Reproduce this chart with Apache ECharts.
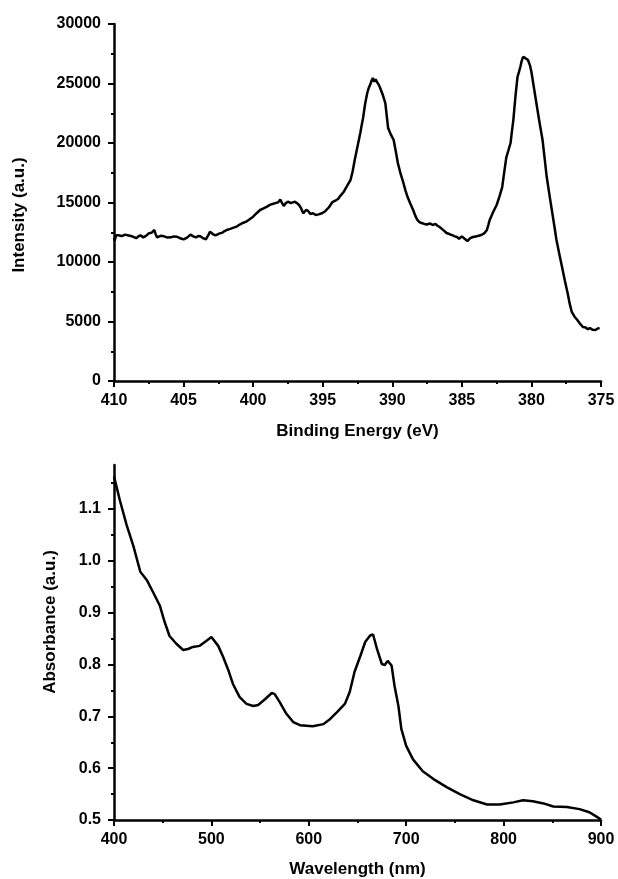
<!DOCTYPE html>
<html>
<head>
<meta charset="utf-8">
<script src="https://cdn.jsdelivr.net/npm/echarts@6/dist/echarts.min.js"></script>
<style>
  html, body { margin: 0; padding: 0; background: #fff; }
  #chart { width: 618px; height: 879px; }
</style>
</head>
<body>
<div id="chart"></div>
<script>
// XPS spectrum: [binding energy (eV), intensity (a.u.)]
const xpsData = [
  [410.0, 12000], [409.95, 11800], [409.85, 12250], [409.7, 12240], [409.45, 12180], [409.2, 12300],
  [408.95, 12230], [408.7, 12160], [408.4, 12000], [408.25, 12150], [408.1, 12240], [407.9, 12070],
  [407.7, 12200], [407.5, 12410], [407.3, 12450], [407.1, 12690], [407.0, 12300], [406.9, 12070],
  [406.65, 12200], [406.4, 12160], [406.15, 12050], [405.9, 12070], [405.7, 12150], [405.5, 12130],
  [405.25, 12000], [405.0, 11900], [404.75, 12050], [404.5, 12300], [404.3, 12150], [404.1, 12070],
  [403.95, 12180], [403.8, 12160], [403.6, 12000], [403.4, 11900], [403.2, 12300], [403.1, 12550],
  [402.9, 12350], [402.7, 12240], [402.45, 12380], [402.2, 12470], [402.05, 12600], [401.9, 12690],
  [401.65, 12780], [401.4, 12890], [401.15, 13000], [400.9, 13190], [400.7, 13300], [400.5, 13390],
  [400.25, 13600], [400.0, 13810], [399.75, 14100], [399.5, 14370], [399.25, 14500], [399.0, 14650],
  [398.8, 14800], [398.6, 14880], [398.4, 14950], [398.2, 15020], [398.05, 15250], [398.0, 15350],
  [397.9, 14900], [397.8, 14710], [397.65, 14950], [397.5, 15070], [397.3, 14950], [397.0, 15070],
  [396.85, 14950], [396.7, 14790], [396.55, 14500], [396.4, 14090], [396.3, 14250], [396.2, 14370],
  [396.05, 14300], [395.9, 14040], [395.7, 14100], [395.5, 13950], [395.3, 14000], [395.05, 14100],
  [394.8, 14290], [394.55, 14600], [394.3, 15040], [394.1, 15150], [393.9, 15290], [393.7, 15600],
  [393.5, 15880], [393.25, 16400], [393.0, 16890], [392.85, 17600], [392.7, 18570], [392.5, 19700],
  [392.3, 20840], [392.2, 21500], [392.1, 22100], [391.95, 23300], [391.8, 24200], [391.7, 24600],
  [391.6, 24870], [391.5, 25200], [391.4, 25460], [391.3, 25150], [391.2, 25350], [391.1, 25130],
  [391.0, 24950], [390.9, 24700], [390.7, 24100], [390.5, 23360], [390.4, 22300], [390.3, 21260],
  [390.1, 20700], [389.9, 20250], [389.75, 19300], [389.6, 18320], [389.4, 17400], [389.2, 16640],
  [389.05, 16000], [388.9, 15460], [388.7, 14900], [388.5, 14370], [388.35, 13900], [388.2, 13530],
  [388.05, 13350], [387.9, 13280], [387.7, 13200], [387.5, 13150], [387.3, 13250], [387.1, 13110],
  [386.9, 13200], [386.75, 13050], [386.6, 12940], [386.35, 12700], [386.1, 12440], [385.9, 12350],
  [385.7, 12250], [385.5, 12150], [385.35, 12100], [385.2, 11950], [385.0, 12150], [384.8, 11950],
  [384.6, 11760], [384.4, 12000], [384.2, 12100], [384.0, 12150], [383.8, 12200], [383.6, 12270],
  [383.4, 12400], [383.2, 12690], [383.1, 13100], [383.0, 13530], [382.75, 14200], [382.5, 14790],
  [382.3, 15500], [382.1, 16300], [381.95, 17600], [381.8, 18820], [381.65, 19400], [381.5, 20000],
  [381.4, 21000], [381.3, 21930], [381.15, 23900], [381.0, 25550], [380.9, 25950], [380.8, 26390],
  [380.7, 26900], [380.6, 27230], [380.45, 27150], [380.25, 26970], [380.1, 26500], [380.0, 25970],
  [379.8, 24500], [379.6, 23030], [379.4, 21600], [379.2, 20250], [379.05, 18700], [378.9, 17140],
  [378.7, 15600], [378.5, 14120], [378.35, 13000], [378.2, 11850], [378.0, 10700], [377.8, 9580],
  [377.6, 8450], [377.4, 7390], [377.25, 6500], [377.1, 5800], [376.9, 5400], [376.7, 5130],
  [376.5, 4800], [376.3, 4540], [376.1, 4500], [375.95, 4350], [375.8, 4450], [375.6, 4300],
  [375.4, 4290], [375.25, 4400], [375.1, 4450]
];

// UV-vis spectrum: [wavelength (nm), absorbance (a.u.)]
const uvData = [
  [400, 1.163], [406, 1.117], [413, 1.069], [420, 1.028], [427, 0.979], [434, 0.962],
  [440, 0.940], [447, 0.914], [452, 0.882], [457, 0.855], [464, 0.840], [471, 0.828],
  [476, 0.830], [481, 0.834], [488, 0.836], [495, 0.846], [500, 0.853], [507, 0.836],
  [512, 0.815], [518, 0.786], [522, 0.763], [529, 0.737], [536, 0.724], [543, 0.720],
  [548, 0.722], [555, 0.733], [562, 0.745], [565, 0.743], [570, 0.728], [577, 0.705],
  [584, 0.689], [591, 0.683], [604, 0.681], [615, 0.685], [622, 0.695], [629, 0.708],
  [637, 0.724], [642, 0.747], [647, 0.786], [653, 0.817], [658, 0.844], [663, 0.856],
  [666, 0.858], [670, 0.830], [675, 0.801], [678, 0.799], [681, 0.807], [685, 0.798],
  [688, 0.759], [692, 0.720], [695, 0.676], [700, 0.643], [707, 0.617], [717, 0.594],
  [728, 0.579], [742, 0.563], [755, 0.550], [769, 0.538], [783, 0.530], [796, 0.530],
  [810, 0.534], [820, 0.538], [830, 0.536], [841, 0.532], [851, 0.526], [865, 0.525],
  [878, 0.521], [888, 0.515], [895, 0.507], [900, 0.501]
];

const uvMajorTicks = [0.5, 0.6, 0.7, 0.8, 0.9, 1.0, 1.1];
const uvMinorTicks = [0.55, 0.65, 0.75, 0.85, 0.95, 1.05, 1.15];

const FONT = '"Liberation Sans", Arial, sans-serif';
const black = '#000';

const labelStyle = { color: black, fontFamily: FONT, fontWeight: 'bold', fontSize: 16 };
const nameStyle = { color: black, fontFamily: FONT, fontWeight: 'bold', fontSize: 17 };
const axisLine = { show: true, onZero: false, lineStyle: { color: black, width: 2.5 } };
const axisTick = { show: true, inside: false, length: 6, lineStyle: { color: black, width: 2 } };
const minorTick = { show: true, splitNumber: 2, length: 3, lineStyle: { color: black, width: 2 } };

const chart = echarts.init(document.getElementById('chart'));

chart.setOption({
  animation: false,
  backgroundColor: '#fff',
  grid: [
    { left: 114, top: 24, width: 487, height: 357 },
    { left: 114, top: 465, width: 487, height: 356 }
  ],
  xAxis: [
    {
      gridIndex: 0, type: 'value', inverse: true, min: 375, max: 410, interval: 5,
      name: 'Binding Energy (eV)', nameLocation: 'middle', nameGap: 42, nameTextStyle: nameStyle,
      axisLine, axisTick, minorTick,
      axisLabel: { ...labelStyle, margin: 12 },
      splitLine: { show: false }
    },
    {
      gridIndex: 1, type: 'value', min: 400, max: 900, interval: 100,
      name: 'Wavelength (nm)', nameLocation: 'middle', nameGap: 41, nameTextStyle: nameStyle,
      axisLine, axisTick, minorTick,
      axisLabel: { ...labelStyle, margin: 12 },
      splitLine: { show: false }
    }
  ],
  yAxis: [
    {
      gridIndex: 0, type: 'value', min: 0, max: 30000, interval: 5000,
      axisLine, axisTick, minorTick,
      axisLabel: { ...labelStyle, margin: 13, formatter: (v) => String(v) },
      splitLine: { show: false }
    },
    {
      gridIndex: 1, type: 'value', position: 'left', min: 0.5, max: 1.185,
      axisLine,
      axisTick: { ...axisTick, customValues: uvMajorTicks },
      axisLabel: { ...labelStyle, margin: 13, customValues: uvMajorTicks, formatter: (v) => v.toFixed(1) },
      splitLine: { show: false }
    },
    {
      // minor ticks of the absorbance axis
      gridIndex: 1, type: 'value', position: 'left', min: 0.5, max: 1.185,
      axisLine: { show: false },
      axisTick: { show: true, length: 3, lineStyle: { color: black, width: 2 }, customValues: uvMinorTicks },
      axisLabel: { show: false },
      splitLine: { show: false }
    }
  ],
  graphic: [
    {
      type: 'text', x: 19, y: 215, rotation: Math.PI / 2,
      style: { text: 'Intensity (a.u.)', font: 'bold 17px ' + FONT, fill: black, align: 'center', verticalAlign: 'middle' }
    },
    {
      type: 'text', x: 50, y: 622, rotation: Math.PI / 2,
      style: { text: 'Absorbance (a.u.)', font: 'bold 17px ' + FONT, fill: black, align: 'center', verticalAlign: 'middle' }
    }
  ],
  series: [
    {
      type: 'line', xAxisIndex: 0, yAxisIndex: 0, data: xpsData,
      showSymbol: false, lineStyle: { color: black, width: 2.5 }
    },
    {
      type: 'line', xAxisIndex: 1, yAxisIndex: 1, data: uvData,
      showSymbol: false, lineStyle: { color: black, width: 2.5 }
    }
  ]
});
</script>
</body>
</html>
